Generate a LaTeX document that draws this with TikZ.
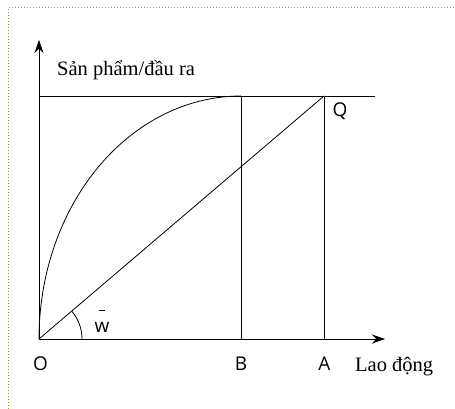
\documentclass[tikz,border=0pt]{standalone}
\usepackage{fontspec}
\setmainfont{Liberation Serif}
\newfontfamily\labfont{Open Sans}
\usetikzlibrary{arrows.meta}
\definecolor{borderol}{RGB}{150,160,50}
\begin{document}
\begin{tikzpicture}[x=1pt,y=-1pt,
  ln/.style={line width=0.8pt,black},
  axis/.style={ln,-{Stealth[length=13pt,width=9pt]}},
  ptlab/.style={font={\fontsize{19}{22}\labfont},inner sep=0pt},
  ttl/.style={font={\fontsize{20.5}{24}\selectfont},inner sep=0pt}]
\useasboundingbox (0,0) rectangle (455,409);
\draw[borderol,dotted,line width=1pt] (8,409) -- (8,8) -- (455,8);
\coordinate (O) at (39,339);
\coordinate (Ytop) at (39,40);
\coordinate (Xend) at (385,339);
\coordinate (Tl) at (39,96);
\coordinate (Tr) at (375,96);
\coordinate (Bt) at (241,96);
\coordinate (Bb) at (241,339);
\coordinate (Qp) at (324,96);
\coordinate (Ab) at (324,339);
\draw[axis] (O) -- (Ytop);
\draw[axis] (O) -- (Xend);
\draw[ln] (Tl) -- (Tr);
\draw[ln] (Bt) -- (Bb);
\draw[ln] (Qp) -- (Ab);
\draw[ln] (O) -- (Qp);
\draw[ln] plot[domain=0:90,samples=60,smooth] ({241-202*cos(\x)},{339-243*sin(\x)});
\draw[ln] (O) ++(43pt,0) arc[start angle=0,end angle=40.45,radius=43pt];
\node[ptlab] (lO) at (40.5,364) {O};
\node[ptlab] (lB) at (241,364) {B};
\node[ptlab] (lA) at (324.5,364) {A};
\node[ptlab] (lQ) at (340,111) {Q};
\node[ptlab,anchor=base] (lw) at (102,332) {\ooalign{w\cr\hidewidth\raisebox{21pt}{\rule{6.5pt}{0.8pt}}\hidewidth\cr}};
\node[ttl,anchor=base west] (ly) at (57,76) {Sản phẩm/đầu ra};
\node[ttl,anchor=base west] (lx) at (355,371) {Lao động};
\end{tikzpicture}
\end{document}
